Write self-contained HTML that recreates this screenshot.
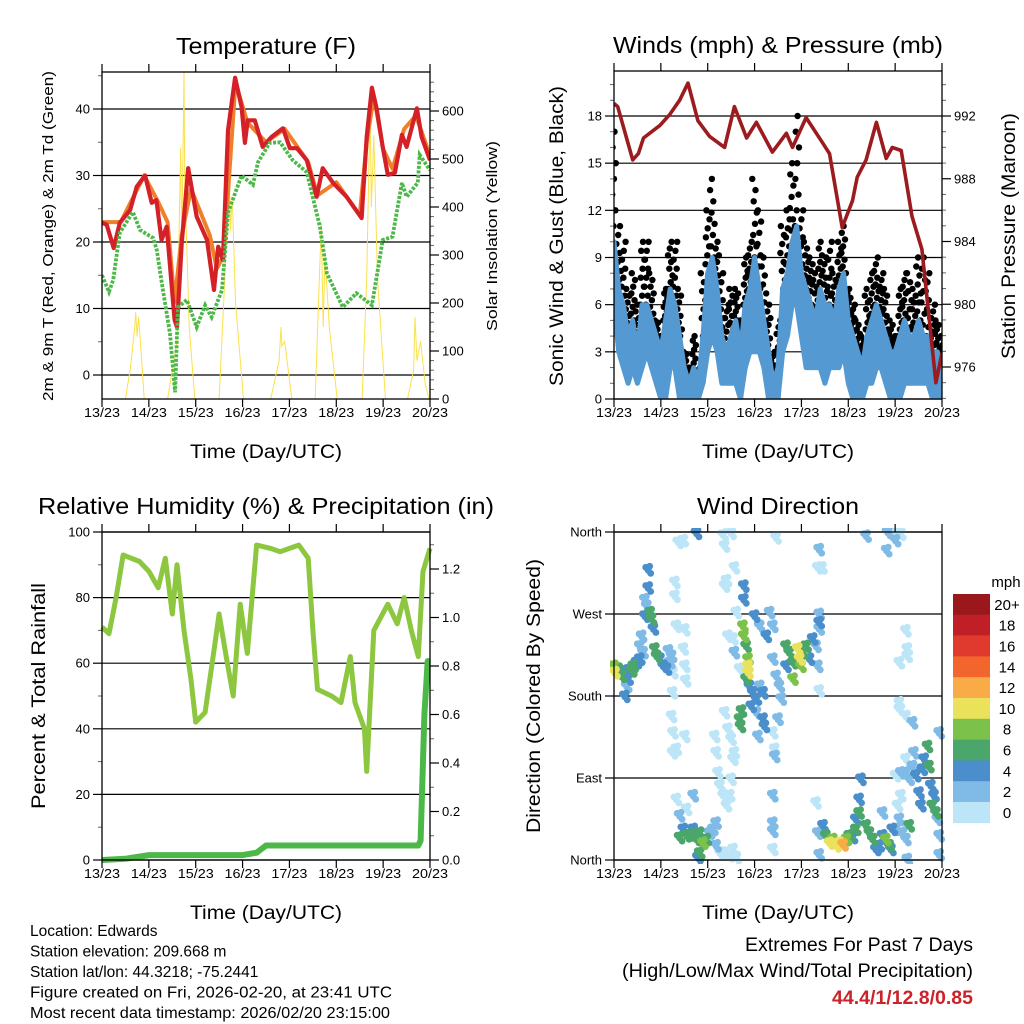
<!DOCTYPE html>
<html><head><meta charset="utf-8"><style>
html,body{margin:0;padding:0;background:#fff}
svg{display:block;font-family:"Liberation Sans",sans-serif}
</style></head><body>
<svg id="s" width="1024" height="1024" viewBox="0 0 1024 1024" xmlns="http://www.w3.org/2000/svg">
<rect width="1024" height="1024" fill="#fff"/>
<g id="g1"></g>
<g id="g2"></g>
<g id="g3"></g>
<g id="g4"></g>
<g font-size="15.5">
<text x="30" y="936">Location: Edwards</text>
<text x="30" y="956.5">Station elevation: 209.668 m</text>
<text x="30" y="977">Station lat/lon: 44.3218; -75.2441</text>
<text x="30" y="997.5" textLength="362" lengthAdjust="spacingAndGlyphs">Figure created on Fri, 2026-02-20, at 23:41 UTC</text>
<text x="30" y="1018" textLength="360" lengthAdjust="spacingAndGlyphs">Most recent data timestamp: 2026/02/20 23:15:00</text>
</g>
<g font-size="19" text-anchor="end">
<text x="973" y="951" textLength="228" lengthAdjust="spacingAndGlyphs">Extremes For Past 7 Days</text>
<text x="973" y="977" textLength="351" lengthAdjust="spacingAndGlyphs">(High/Low/Max Wind/Total Precipitation)</text>
<text x="973" y="1004" fill="#cc2229" font-weight="bold" textLength="141" lengthAdjust="spacingAndGlyphs">44.4/1/12.8/0.85</text>
</g>
</svg>
<script>
// ---------- DATA ----------
const dayLabels=["13/23","14/23","15/23","16/23","17/23","18/23","19/23","20/23"];
// Temperature (days, F)
const tT=[0,0.1,0.25,0.38,0.6,0.74,0.92,1.06,1.16,1.27,1.38,1.55,1.6,1.7,1.84,2.02,2.24,2.39,2.48,2.58,2.69,2.84,2.98,3.05,3.11,3.26,3.43,3.62,3.86,4.01,4.16,4.37,4.58,4.71,4.93,5.22,5.54,5.65,5.76,5.86,5.99,6.1,6.25,6.4,6.5,6.72,6.82,7.0];
const t2m=[22.9,22.6,19.1,22.9,24.8,28.3,30,25.9,26.3,20.3,22.3,8.3,7.2,19.8,31.1,23.8,20.3,12.8,19.3,17.3,36.8,44.7,40.3,34.9,38.3,38.3,34.3,35.8,37.1,34.1,34.1,32.3,26.8,31.1,28.9,26.8,23.6,35.8,43.2,40.1,34.3,30.1,30.4,36.1,34.3,40.1,35.8,32.3];
const tO=[0,0.4,0.9,1.2,1.4,1.55,1.7,1.9,2.3,2.45,2.6,2.85,3.1,3.5,3.9,4.4,4.6,5.0,5.5,5.65,5.8,6.0,6.2,6.45,6.7,7.0];
const t9m=[23,23,30,26,23,11,21,28,21,16,18,44,38,35,37,32,27,29,24,35,42,34,31,37,39,33];
const tD=[0,0.15,0.24,0.38,0.66,0.81,1.09,1.17,1.3,1.45,1.56,1.62,1.81,2.02,2.2,2.34,2.56,2.69,2.98,3.22,3.33,3.58,3.8,4.07,4.37,4.65,4.8,5.14,5.43,5.76,5.86,5.99,6.2,6.4,6.5,6.74,6.78,7.0];
const td2m=[15,12.5,14.3,21.4,24.5,21.8,20.6,18.8,12.8,6.3,-2.6,10.2,11.3,7.2,10.5,8.7,12.8,24.4,30,28.6,32,34.9,35,32.3,30.5,22.3,15.3,10.2,12.3,10.5,14.7,20.3,20.8,28.9,26.8,28.9,33.1,30.8];
const tS=[0.5,0.6,0.7,0.72,0.75,0.78,0.82,0.9,1.4,1.6,1.68,1.7,1.75,1.77,1.8,1.86,1.98,2.5,2.62,2.7,2.74,2.78,2.85,3.02,3.6,3.78,3.82,3.84,3.9,4.05,4.55,4.62,4.68,4.72,4.76,4.85,5.02,5.55,5.65,5.72,5.75,5.8,5.88,6.05,6.52,6.65,6.68,6.72,6.8,6.9,6.98];
const solar=[0,60,150,181,130,170,120,0,0,120,523,300,680,400,350,150,0,0,250,567,350,420,200,0,0,80,150,110,120,0,0,200,367,150,300,150,0,0,250,608,400,550,250,0,0,60,171,80,120,30,0];
// Winds (days, mph), Pressure (mb)
const wT=[0,0.1,0.2,0.3,0.4,0.5,0.6,0.7,0.8,0.9,1.0,1.1,1.2,1.3,1.4,1.5,1.6,1.7,1.8,1.9,2.0,2.1,2.2,2.3,2.4,2.5,2.6,2.7,2.8,2.9,3.0,3.1,3.2,3.3,3.4,3.5,3.6,3.7,3.8,3.9,4.0,4.1,4.2,4.3,4.4,4.5,4.6,4.7,4.8,4.9,5.0,5.1,5.2,5.3,5.4,5.5,5.6,5.7,5.8,5.9,6.0,6.1,6.2,6.3,6.4,6.5,6.6,6.7,6.8,6.9,7.0];
const windHi=[10,7,6,4,5,3,6,6,5,4,3,5,7,6,4,2,1,2,1,4,8,9,7,4,3,4,5,3,6,7,9,7,5,3,1,2,7,8,10,11,8,7,6,5,7,6,6,5,7,8,5,4,3,2,4,5,6,5,4,3,3,4,5,4,4,5,4,4,3,3,2];
const windLo=[6,3,2,1,2,1,2,3,2,1,0,0,2,2,0,0,0,0,0,1,3,4,3,1,1,1,1,0,2,3,3,3,2,0,0,0,3,4,6,6,4,2,2,2,2,1,2,2,2,3,1,0,0,0,1,1,2,2,1,0,0,0,1,1,1,1,1,1,0,0,0];
const gust=[17,11,10,7,8,6,10,10,8,5,4,7,10,10,7,3,2,4,2,8,12,14,10,8,6,7,7,5,9,10,14,12,9,6,3,5,11,12,15,18,12,10,9,8,10,9,10,8,10,11,7,6,5,4,7,8,9,8,7,5,4,7,8,8,7,9,9,8,6,5,4];
const pT=[0,0.08,0.4,0.52,0.63,0.98,1.19,1.4,1.58,1.79,2.04,2.36,2.57,2.83,3.04,3.38,3.68,3.81,4.1,4.45,4.6,4.87,5.09,5.19,5.38,5.6,5.81,5.94,6.13,6.36,6.57,6.87,7.0];
const pres=[992.8,992.6,989.2,989.6,990.6,991.4,992.1,993.0,994.1,991.7,990.7,990.0,992.6,990.6,991.6,989.7,990.9,990.0,991.9,990.3,989.6,984.9,986.6,988.1,989.2,991.6,989.3,990.0,989.8,985.6,983.5,975.0,976.9];
// RH (%), precipitation (in)
const rhT=[0,0.15,0.3,0.45,0.8,1.0,1.2,1.35,1.5,1.6,1.75,1.9,2.0,2.2,2.4,2.5,2.65,2.8,2.95,3.1,3.3,3.6,3.8,4.0,4.2,4.4,4.5,4.6,4.9,5.1,5.3,5.4,5.6,5.65,5.8,6.1,6.3,6.45,6.6,6.75,6.85,7.0];
const rh=[71,69,80,93,91,88,83,92,75,90,70,55,42,45,65,75,62,50,78,63,96,95,94,95,96,92,70,52,50,48,62,48,40,27,70,78,72,80,70,62,88,95];
const prT=[0,0.5,1.0,2.0,3.0,3.3,3.5,4.5,5.5,6.75,6.8,6.88,6.95,7.0];
const precip=[0,0.005,0.02,0.02,0.02,0.03,0.06,0.06,0.06,0.06,0.08,0.6,0.82,0.82];
// Wind direction (days, degrees, mph)
const dirT=[0,0.02,0.09,0.16,0.23,0.3,0.38,0.41,0.48,0.55,0.62,0.23,0.27,0.66,0.7,0.77,0.8,0.84,0.73,0.73,0.66,0.59,0.55,0.87,0.91,0.98,1.05,1.12,1.19,1.16,1.23,1.26,1.3,1.3,1.33,1.25,1.23,1.26,1.25,1.37,1.48,1.51,1.51,1.53,1.51,1.33,1.48,1.76,2.33,2.5,2.36,3.46,5.38,5.84,5.82,6.01,6.12,6.01,1.4,1.48,1.55,1.62,1.69,1.76,1.83,1.9,1.97,1.83,1.79,2.04,2.11,2.18,1.69,1.33,1.55,1.4,2.18,2.15,2.18,2.22,2.26,2.33,2.4,2.47,2.5,2.54,2.57,2.36,2.43,2.5,2.4,2.36,2.57,2.47,2.54,2.61,2.33,2.26,2.75,2.77,2.82,2.86,2.86,2.86,2.82,2.89,2.96,3.04,3.11,3.18,2.72,2.68,2.7,2.77,2.77,3.0,2.61,2.54,2.43,2.57,2.68,2.93,3.04,3.18,3.21,3.11,3.25,3.32,3.39,3.39,3.46,3.53,3.57,3.5,3.39,3.43,3.43,3.07,3.67,3.74,3.82,3.92,3.96,3.99,4.03,4.1,4.17,4.24,4.31,4.38,3.82,3.67,4.35,4.38,4.38,4.35,4.44,4.38,4.38,3.39,3.39,3.39,3.39,4.31,4.46,4.52,4.6,4.67,4.74,4.81,4.89,4.96,5.02,5.09,5.16,5.23,5.23,5.27,4.38,4.35,5.16,5.38,5.45,5.52,5.59,5.66,5.73,5.8,5.87,5.94,5.91,6.01,6.09,6.16,6.23,6.3,6.26,5.73,6.05,6.12,6.01,6.12,6.23,6.3,6.37,6.4,6.44,6.51,6.55,6.58,6.62,6.69,6.72,6.76,6.79,6.83,6.87,6.9,6.94,6.94,6.94,6.37,6.23,6.09,6.09,6.23,6.26,6.26,6.09,6.23];
const dirDeg=[212,205,209,201,207,198,207,212,216,220,227,179,190,267,278,271,264,253,318,298,285,245,234,231,223,220,212,209,216,229,223,205,304,289,256,183,157,139,117,348,350,252,212,196,135,121,231,358,356,358,344,353,355,359,339,359,357,350,24,33,26,27,33,22,29,18,22,7,2,29,33,40,70,66,55,48,15,135,117,95,81,70,59,70,88,110,117,161,143,132,306,300,320,4,11,2,7,7,256,245,234,220,212,205,198,190,183,176,190,183,163,154,146,300,285,267,271,242,245,227,209,168,161,154,146,256,245,271,256,220,201,190,176,154,139,121,113,135,234,227,216,231,220,212,227,234,220,242,234,253,198,212,212,269,340,320,320,260,185,70,40,31,11,62,37,26,18,22,15,18,16,22,26,24,33,51,66,88,5,29,44,37,29,22,11,15,26,22,15,33,11,33,44,29,22,37,0,51,59,70,92,95,95,88,102,117,92,73,59,99,110,124,102,81,59,70,51,44,26,5,139,150,157,172,165,110,223,231,216,251];
const dirSpd=[9,10,7,6,5,4,7,6,5,4,3,4,3,4,3,6,6,5,4,4,3,3,2,7,6,5,4,4,3,3,2,1,0,0,0,0,0,0,0,0,0,1,0,0,1,0,1,4,0,0,0,1,3,3,3,1,0,3,7,5,6,6,5,6,7,8,6,6,4,3,2,2,3,1,1,2,2,0,0,0,0,1,1,0,0,0,0,0,0,0,0,0,0,0,1,0,1,0,8,8,6,8,10,10,7,4,4,4,3,4,6,6,6,4,4,4,1,1,1,2,1,4,3,4,4,3,4,3,2,3,3,3,3,2,1,1,3,2,6,6,7,10,10,8,6,6,5,4,3,3,8,5,2,3,3,1,1,4,1,3,3,3,1,1,4,6,10,8,10,10,13,8,6,5,6,6,4,4,2,2,4,6,6,6,5,4,4,8,6,5,5,3,3,2,2,6,2,3,1,1,1,2,2,2,3,3,4,4,5,4,4,7,6,5,6,4,6,3,2,2,3,3,1,1,0,1,1,1,0,0];
const dirLabels=["North","East","South","West","North"];
const spdColors=["#bde5f8","#7fbbe6","#4a8fcb","#4aa66a","#7cc24a","#e9e25a","#f9ab48","#f2652c","#e03a2e","#c01f28","#9a181c"];
const spdLabels=["0","2","4","6","8","10","12","14","16","18","20+"];

// ---------- HELPERS ----------
const NS="http://www.w3.org/2000/svg";
function mk(parent,tag,attrs){const e=document.createElementNS(NS,tag);for(const k in attrs)e.setAttribute(k,attrs[k]);parent.appendChild(e);return e;}
function lin(d0,d1,r0,r1){return v=>r0+(v-d0)*(r1-r0)/(d1-d0);}
function txt(parent,x,y,s,size,anchor,rot,len){const e=mk(parent,'text',{x:x,y:y,'font-size':size,'text-anchor':anchor||'start'});if(rot)e.setAttribute('transform','rotate(-90 '+x+' '+y+')');if(len){e.setAttribute('textLength',len);e.setAttribute('lengthAdjust','spacingAndGlyphs');}e.textContent=s;return e;}
function pathOf(ts,vs,xs,ys){let d='';for(let i=0;i<ts.length;i++){d+=(i?'L':'M')+xs(ts[i]).toFixed(1)+','+ys(vs[i]).toFixed(1);}return d;}

function frame(g,L,R,T,B,xs,title,titleLen){
  for(let i=0;i<dayLabels.length;i++){
    const x=xs(i);
    const t1=mk(g,'line',{x1:x,x2:x,y1:T-8,y2:T,stroke:'#000','stroke-width':1.2});
    
    const t2=mk(g,'line',{x1:x,x2:x,y1:B,y2:B+8,stroke:'#000','stroke-width':1.2});
    
    const lb=txt(g,x,B+18,dayLabels[i],13,'middle',0,36);
    
  }
  const xt=txt(g,(L+R)/2,B+59,'Time (Day/UTC)',19,'middle',0,152);
  
  const tt=txt(g,(L+R)/2,T-18,title,23,'middle',0,titleLen);
  
}
function box(g,L,R,T,B){const b=mk(g,'rect',{x:L,y:T,width:R-L,height:B-T,fill:'none',stroke:'#000','stroke-width':1.3});}
function yAxis(g,side,pos,T,B,ys,ticks,labels,minor,grid,L,R){
  for(const m of minor){const y=ys(m);if(y<T-0.5||y>B+0.5)continue;const ml=mk(g,'line',{x1:pos,x2:side<0?pos-4:pos+4,y1:y,y2:y,stroke:'#666','stroke-width':1});}
  for(let i=0;i<ticks.length;i++){const y=ys(ticks[i]);
    if(grid){const gl=mk(g,'line',{x1:L,x2:R,y1:y,y2:y,stroke:'#000','stroke-width':1.2});}
    const tl=mk(g,'line',{x1:pos,x2:side<0?pos-9:pos+9,y1:y,y2:y,stroke:'#000','stroke-width':1.2});
    const lb=txt(g,side<0?pos-12:pos+12,y+4.5,labels[i],13,side<0?'end':'start');}
}

// ---------- PANEL 1 : TEMPERATURE ----------
(function(){
  const g=document.getElementById('g1');const L=102,R=430,T=72,B=399;
  const xs=lin(0,7,L,R),ys=lin(0,40,375,109),ysR=lin(0,600,399,111);
  const cp=mk(g,'clipPath',{id:'c1'});mk(cp,'rect',{x:L,y:T,width:R-L,height:B-T});
  yAxis(g,-1,L,T,B,ys,[0,10,20,30,40],['0','10','20','30','40'],[-5,5,15,25,35,45],true,L,R);
  yAxis(g,1,R,T,B,ysR,[0,100,200,300,400,500,600],['0','100','200','300','400','500','600'],[20,40,60,80,120,140,160,180,220,240,260,280,320,340,360,380,420,440,460,480,520,540,560,580,620,640,660],false);
  const pg=mk(g,'g',{'clip-path':'url(#c1)'});
  const s=mk(pg,'path',{d:pathOf(tS,solar,xs,ysR),fill:'none',stroke:'#fbe14a','stroke-width':1});
  const o=mk(pg,'path',{d:pathOf(tO,t9m,xs,ys),fill:'none',stroke:'#f07f2a','stroke-width':4,'stroke-linejoin':'round'});
  const r=mk(pg,'path',{d:pathOf(tT,t2m,xs,ys),fill:'none',stroke:'#d42027','stroke-width':4.2,'stroke-linejoin':'round'});
  const d=mk(pg,'path',{d:pathOf(tD,td2m,xs,ys),fill:'none',stroke:'#4cb848','stroke-width':3.8,'stroke-dasharray':'3 1.5'});
  box(g,L,R,T,B);frame(g,L,R,T,B,xs,'Temperature (F)',180);
  const a=txt(g,53,236,'2m & 9m T (Red, Orange) & 2m Td (Green)',15,'middle',1,330);
  const b=txt(g,497,236,'Solar Insolation (Yellow)',15,'middle',1,190);
})();

// ---------- PANEL 2 : WINDS & PRESSURE ----------
(function(){
  const g=document.getElementById('g2');const L=614,R=942,T=71,B=399;
  const xs=lin(0,7,L,R),ys=lin(0,18,399,116),ysR=lin(976,992,367,116);
  const cp=mk(g,'clipPath',{id:'c2'});mk(cp,'rect',{x:L,y:T,width:R-L,height:B-T});
  yAxis(g,-1,L,T,B,ys,[0,3,6,9,12,15,18],['0','3','6','9','12','15','18'],[1,2,4,5,7,8,10,11,13,14,16,17,19,20],true,L,R);
  yAxis(g,1,R,T,B,ysR,[976,980,984,988,992],['976','980','984','988','992'],[974,975,977,978,979,981,982,983,985,986,987,989,990,991,993,994,995],false);
  const pg=mk(g,'g',{'clip-path':'url(#c2)'});
  for(let i=0;i<wT.length;i++){
    const n=7;
    for(let k=0;k<=n;k++){
      const v=windHi[i]+(gust[i]-windHi[i])*k/n;
      const jx=((k*37+i*13)%11-5)*0.45;
      const c=mk(pg,'circle',{cx:(xs(wT[i])+jx).toFixed(1),cy:ys(v).toFixed(1),r:3.2,fill:'#000'});
      
    }
  }
  let dd='';for(let i=0;i<wT.length;i++)dd+=(i?'L':'M')+xs(wT[i]).toFixed(1)+','+ys(windHi[i]).toFixed(1);
  for(let i=wT.length-1;i>=0;i--)dd+='L'+xs(wT[i]).toFixed(1)+','+ys(windLo[i]).toFixed(1);
  const band=mk(pg,'path',{d:dd+'Z',fill:'#5499d2',stroke:'#5499d2','stroke-width':5,'stroke-linejoin':'round'});
  let zz='';for(let i=0;i<wT.length;i++){const x=xs(wT[i]);zz+=(i?'L':'M')+(x-1.2).toFixed(1)+','+ys(windHi[i]).toFixed(1)+'L'+(x+1.2).toFixed(1)+','+ys(windLo[i]).toFixed(1);}
  const zg=mk(pg,'path',{d:zz,fill:'none',stroke:'#5499d2','stroke-width':3});
  const p=mk(pg,'path',{d:pathOf(pT,pres,xs,ysR),fill:'none',stroke:'#9b1b1e','stroke-width':3.6,'stroke-linejoin':'round'});
  box(g,L,R,T,B);frame(g,L,R,T,B,xs,'Winds (mph) & Pressure (mb)',330);
  const a=txt(g,563,236,'Sonic Wind & Gust (Blue, Black)',19,'middle',1,300);
  const b=txt(g,1015,236,'Station Pressure (Maroon)',19,'middle',1,246);
})();

// ---------- PANEL 3 : RH & PRECIP ----------
(function(){
  const g=document.getElementById('g3');const L=102,R=430,T=532,B=860;
  const xs=lin(0,7,L,R),ys=lin(0,100,860,532),ysR=lin(0,1.2,860,569);
  const cp=mk(g,'clipPath',{id:'c3'});mk(cp,'rect',{x:L-3,y:T,width:R-L+6,height:B-T+3});
  yAxis(g,-1,L,T,B,ys,[0,20,40,60,80,100],['0','20','40','60','80','100'],[10,30,50,70,90],true,L,R);
  yAxis(g,1,R,T,B,ysR,[0,0.2,0.4,0.6,0.8,1.0,1.2],['0.0','0.2','0.4','0.6','0.8','1.0','1.2'],[0.1,0.3,0.5,0.7,0.9,1.1,1.3],false);
  const pg=mk(g,'g',{'clip-path':'url(#c3)'});
  const h=mk(pg,'path',{d:pathOf(rhT,rh,xs,ys),fill:'none',stroke:'#8dc63f','stroke-width':5,'stroke-linejoin':'round'});
  const pr=mk(pg,'path',{d:pathOf(prT,precip,xs,ysR),fill:'none',stroke:'#4cb848','stroke-width':6,'stroke-linejoin':'round'});
  box(g,L,R,T,B);frame(g,L,R,T,B,xs,'Relative Humidity (%) & Precipitation (in)',456);
  const a=txt(g,45,696,'Percent & Total Rainfall',19,'middle',1,226);
})();

// ---------- PANEL 4 : WIND DIRECTION ----------
(function(){
  const g=document.getElementById('g4');const L=614,R=942,T=532,B=860;
  const xs=lin(0,7,L,R),ys=lin(0,360,860,532);
  const cp=mk(g,'clipPath',{id:'c4'});mk(cp,'rect',{x:L-4,y:T-4,width:R-L+8,height:B-T+8});
  yAxis(g,-1,L,T,B,ys,[0,90,180,270,360],dirLabels,[],true,L,R);
  const pg=mk(g,'g',{'clip-path':'url(#c4)'});
  const order=dirT.map((_,i)=>i).sort((a,b)=>dirSpd[a]-dirSpd[b]);
  const jit=[[0,0],[2.5,3],[-2.5,-3],[1.5,-4]];
  for(const i of order){
    const bin=Math.min(10,Math.floor(dirSpd[i]/2));
    for(const j of jit){
      const c=mk(pg,'circle',{cx:(xs(dirT[i])+j[0]).toFixed(1),cy:(ys(dirDeg[i])+j[1]).toFixed(1),r:3.4,fill:spdColors[bin]});
      
    }
  }
  box(g,L,R,T,B);frame(g,L,R,T,B,xs,'Wind Direction',162);
  const a=txt(g,540,696,'Direction (Colored By Speed)',19,'middle',1,274);
  const lg=mk(g,'g',{});
  const u=txt(lg,1006,587,'mph',15,'middle');
  const n=spdColors.length,top=594,hgt=20.8;
  for(let i=0;i<n;i++){
    const k=n-1-i,y=top+i*hgt;
    const r=mk(lg,'rect',{x:953,y:y.toFixed(1),width:37,height:hgt+0.3,fill:spdColors[k]});
    const t=txt(lg,1007,y+hgt/2+5.5,spdLabels[k],15,'middle');
  }
})();
</script>
</body></html>
